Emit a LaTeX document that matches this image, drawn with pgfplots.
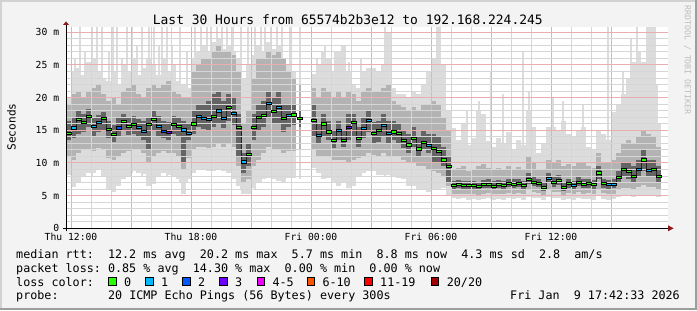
\documentclass[border=0pt]{standalone}
\usepackage{pgfplots}
\pgfplotsset{compat=1.18}
\usepackage{pgfplotstable}
\usepackage{fontspec}
\setmainfont{DejaVu Sans Mono}
\frenchspacing
\definecolor{bgc}{HTML}{F3F3F3}
\definecolor{edgeL}{HTML}{D2D2D2}
\definecolor{edgeD}{HTML}{9E9E9E}
\definecolor{smokeA}{HTML}{DCDCDC}
\definecolor{smokeB}{HTML}{B3B3B3}
\definecolor{smokeC}{HTML}{646464}
\definecolor{majgrid}{HTML}{EBAEAE}
\definecolor{mingrid}{HTML}{D6D6D6}
\definecolor{lossg}{HTML}{26FF00}
\definecolor{lossb}{HTML}{00B8FF}
\definecolor{lossd}{HTML}{0059FF}
\definecolor{lossp}{HTML}{7000FF}
\definecolor{lossm}{HTML}{EE00FF}
\definecolor{losso}{HTML}{FF5500}
\definecolor{lossr}{HTML}{FF0000}
\definecolor{lossk}{HTML}{A10000}
\definecolor{arrowc}{HTML}{8B1A1A}
\definecolor{wmark}{HTML}{BDBDBD}

% hours since Thu 12:00 ; smoke bands lo..hi, l2..u2, l1..u1 ; median ; loss class
\pgfplotstableread{
t lo l2 l1 med u1 u2 hi c
-0.125 8.2 11.0 13.5 14.6 16.5 19.0 20.0 g
0.125 6.3 10.5 13.8 15.4 17.0 20.5 24.0 b
0.375 7.0 11.5 14.5 16.7 18.0 21.0 24.5 g
0.625 8.0 12.0 14.8 16.2 17.5 20.0 23.5 g
0.875 8.5 12.0 15.5 17.2 18.2 21.0 25.5 g
1.125 8.5 11.8 14.2 15.6 17.0 21.5 26.0 b
1.375 9.0 12.3 14.8 16.2 17.4 22.0 24.0 b
1.625 8.0 12.0 15.0 16.9 17.8 20.5 23.0 g
1.875 5.8 10.8 13.8 15.2 16.5 19.5 22.5 g
2.125 5.6 10.5 13.2 14.4 15.8 20.0 24.0 g
2.375 6.5 11.0 14.0 15.4 17.0 19.0 22.0 d
2.625 7.5 11.5 15.0 16.4 17.5 21.0 25.0 g
2.875 8.0 11.8 14.3 15.6 17.0 21.5 24.0 g
3.125 8.7 12.0 14.5 15.9 17.2 22.0 26.0 g
3.375 8.5 12.0 14.0 15.5 16.8 20.5 23.5 b
3.625 8.3 11.5 13.5 14.9 16.5 20.0 24.5 b
3.875 6.5 10.0 12.0 15.9 17.0 21.5 26.0 g
4.125 6.8 11.0 15.0 16.7 18.0 22.0 25.0 g
4.375 8.0 11.5 14.2 15.6 17.2 21.5 23.5 b
4.625 8.5 11.8 13.8 14.9 16.5 22.0 26.0 d
4.875 8.2 11.5 13.5 14.7 16.2 22.5 24.0 p
5.125 8.0 11.5 14.5 15.9 17.2 21.0 25.0 g
5.375 7.5 11.0 14.0 15.6 17.0 20.5 22.5 g
5.625 5.3 9.0 10.0 15.1 16.5 20.0 22.0 b
5.875 7.5 10.8 13.5 14.6 16.0 20.0 21.5 b
6.125 8.5 12.0 14.5 16.0 18.0 24.0 26.0 g
6.375 9.0 12.5 15.5 17.2 19.0 25.0 27.0 b
6.625 9.0 12.5 15.2 16.9 19.0 26.0 28.0 b
6.875 8.8 12.3 15.0 16.7 19.5 26.0 27.0 b
7.125 8.7 12.5 15.5 17.2 20.5 27.0 28.5 g
7.375 9.0 13.0 16.0 18.0 21.0 28.0 29.0 b
7.625 8.7 12.5 15.3 16.9 19.5 27.0 27.5 b
7.875 8.5 13.0 16.5 18.5 20.5 27.0 28.0 g
8.125 7.5 12.5 15.8 17.6 20.0 26.5 27.0 b
8.375 6.5 9.5 11.0 15.5 17.5 24.0 26.0 g
8.625 5.2 7.0 8.5 10.2 11.5 16.0 23.0 b
8.875 5.3 7.5 9.5 11.3 13.0 18.0 25.0 g
9.125 6.2 9.5 13.5 15.5 17.5 23.0 26.5 g
9.375 7.0 10.5 15.0 17.0 19.0 26.0 28.0 g
9.625 7.5 11.5 15.5 17.3 19.5 26.0 27.0 g
9.875 7.7 12.5 17.0 19.2 21.0 27.0 28.5 b
10.125 7.5 12.0 16.0 17.9 20.0 26.5 27.5 g
10.375 7.2 12.0 16.0 18.5 21.0 27.0 28.0 b
10.625 7.0 11.5 14.8 16.8 19.0 26.0 26.0 g
10.875 7.7 11.8 15.5 17.3 19.0 24.0 25.0 b
11.125 7.7 11.8 15.8 17.4 18.8 23.0 24.0 g
}\segA

\pgfplotstableread{
t lo l2 l1 med u1 u2 hi c
11.45 7.5 12.0 15.5 16.9 18.0 22.0 30.8 g
}\segL

\pgfplotstableread{
t lo l2 l1 med u1 u2 hi c
12.125 9.2 12.0 14.0 16.5 19.0 21.5 23.6 g
12.375 8.5 11.0 13.0 14.3 16.0 20.0 25.0 b
12.625 7.5 11.0 14.0 16.0 17.5 21.5 27.0 g
12.875 7.7 11.0 13.5 14.8 16.5 21.0 26.0 g
13.125 7.0 10.5 12.3 13.5 15.0 20.0 24.0 g
13.375 6.5 10.5 13.5 15.0 16.5 21.0 27.0 b
13.625 7.0 10.5 12.5 13.5 15.0 20.0 28.0 g
13.875 6.2 10.0 13.5 15.5 17.5 21.0 24.0 p
14.125 6.5 10.5 14.0 16.3 17.5 20.5 22.0 g
14.375 8.0 10.8 12.5 13.8 15.5 19.5 21.5 g
14.625 8.5 11.0 13.8 15.3 17.0 21.0 24.0 b
14.875 8.7 11.5 14.8 16.5 18.0 21.5 24.6 b
15.125 8.7 11.2 13.0 14.5 16.2 21.0 24.6 g
15.375 8.2 11.0 13.2 15.0 16.5 21.0 24.0 g
15.625 8.2 11.5 14.0 15.8 17.5 21.5 25.0 b
15.875 8.2 11.0 13.0 14.5 16.5 22.0 30.0 b
16.125 8.0 11.0 13.5 14.8 16.5 19.5 21.5 g
16.375 7.7 11.0 13.0 14.5 16.0 19.0 20.5 g
16.625 7.5 10.5 12.3 13.5 15.0 18.5 20.5 g
16.875 6.5 10.0 11.5 12.8 14.5 18.0 20.0 g
17.125 6.5 10.0 12.5 13.8 15.5 18.5 21.0 g
17.375 6.0 9.5 11.0 12.2 14.0 18.0 20.5 g
17.625 5.8 9.5 12.0 13.2 15.0 19.0 22.0 g
17.875 5.5 9.0 11.5 12.7 14.5 19.0 24.0 b
18.125 6.0 8.8 10.0 12.3 14.5 19.5 26.0 g
18.375 6.0 8.5 10.0 11.8 14.0 19.0 30.8 g
18.625 6.2 8.0 9.5 10.5 12.5 17.0 25.0 g
18.875 5.0 6.5 7.0 9.5 11.0 15.0 18.0 g
19.125 4.6 5.3 6.0 6.6 7.3 9.0 15.3 g
19.375 4.5 5.2 6.1 6.7 7.4 9.2 13.5 g
19.625 4.6 5.3 6.0 6.6 7.3 9.5 15.9 g
19.875 4.4 5.2 6.0 6.6 7.2 8.8 12.8 g
20.125 4.5 5.2 6.0 6.6 7.3 9.0 13.8 g
20.375 4.3 5.1 5.8 6.4 7.1 9.5 17.9 g
20.625 4.5 5.3 6.1 6.7 7.4 9.8 17.5 g
20.875 4.6 5.4 6.2 6.8 7.5 9.2 13.3 g
21.125 4.4 5.2 5.9 6.5 7.2 8.9 12.5 g
21.375 4.5 5.3 6.1 6.7 7.4 9.3 13.8 g
21.625 4.4 5.2 6.0 6.6 7.3 9.0 13.0 g
21.875 4.6 5.4 6.3 6.9 7.6 9.6 14.8 g
22.125 4.5 5.3 6.2 6.8 7.5 9.0 12.0 g
22.375 4.6 5.4 6.3 6.9 7.6 9.4 13.5 g
22.625 4.4 5.2 6.0 6.6 7.3 9.0 12.8 g
22.875 4.8 5.8 6.8 7.5 8.5 11.0 17.9 g
23.125 4.6 5.5 6.4 7.0 7.8 10.0 15.5 g
23.375 4.6 5.4 6.3 6.9 7.6 9.0 11.5 g
23.625 4.3 5.0 5.7 6.3 7.0 9.0 13.0 g
23.875 4.8 5.8 6.9 7.7 8.5 10.5 15.5 b
24.125 4.6 5.5 6.3 7.0 7.8 10.0 15.5 g
24.375 4.7 5.6 6.6 7.4 8.2 10.5 15.0 g
24.625 4.3 5.1 5.7 6.3 7.0 9.5 16.5 g
24.875 4.5 5.4 6.2 6.9 7.6 9.8 14.5 g
25.125 4.4 5.2 6.0 6.6 7.3 9.5 14.0 b
25.375 4.6 5.5 6.4 7.1 7.9 10.0 15.0 g
25.625 4.5 5.3 6.1 6.8 7.5 10.0 15.5 g
25.875 4.5 5.4 6.2 6.9 7.6 9.5 12.5 g
26.125 4.4 5.3 6.0 6.7 7.4 9.2 12.0 g
26.375 4.9 6.0 7.5 8.5 9.5 11.5 15.0 g
26.625 4.5 5.4 6.2 6.9 7.6 10.0 14.5 g
26.875 4.4 5.3 6.0 6.7 7.4 10.0 13.5 b
27.125 4.5 5.3 6.1 6.8 7.6 10.5 17.8 b
27.375 4.8 5.8 6.9 7.8 8.8 11.5 19.0 g
27.625 5.0 6.2 7.9 9.0 10.2 13.0 20.5 g
27.875 5.0 6.2 7.6 8.7 10.0 13.5 23.0 g
28.125 4.8 5.9 7.0 8.0 9.5 13.0 25.5 g
28.375 5.0 6.3 7.9 9.0 10.5 14.0 27.0 b
28.625 5.1 6.6 8.8 10.5 12.0 15.0 25.5 g
28.875 5.0 6.3 7.8 8.9 10.5 14.5 30.8 b
29.125 5.0 6.3 7.9 9.0 10.5 14.0 30.8 g
29.375 4.8 6.0 7.0 8.0 9.5 12.5 16.0 g
}\segB

% thin single-sample streaks of the smoke
\pgfplotstableread{
t lo hi
0.2 8 26
0.45 7 30.8
0.7 8 27
1.05 8 30.8
1.3 9 30.8
1.55 8 30.8
1.9 6 27
2.1 6 30.8
2.3 7 30.8
2.55 7.5 26
2.8 8 30.8
3.05 8.5 30.8
3.3 8.5 28
3.55 8 30.8
3.9 6.5 30.8
4.15 7 30.8
4.4 8 28
4.55 8.5 30.8
4.8 8 30.8
5.05 8 28
5.45 7 30.8
5.8 7 27
6.2 8.5 30.8
6.5 9 30.8
6.8 9 30.8
7.0 9 30.8
7.3 9 30.8
7.55 8.7 30.8
7.8 8.5 30.8
8.1 7.5 30.8
8.5 6 30.8
8.85 5.3 30.8
9.2 6 30.8
9.5 7 30.8
9.7 7.5 30.8
10.0 7.7 30.8
10.3 7.2 30.8
10.55 7 30.8
10.95 7.7 30.8
12.3 9 26
12.7 8 28
13.2 7 27
13.9 7 25.5
14.5 8 26
15.7 8 30.8
16.0 8 29
18.35 6 30.8
19.8 4.5 18
20.4 4.4 19.5
21.0 4.5 24
21.6 4.5 20.5
22.6 4.5 27
22.9 4.8 21
24.1 4.6 20
24.6 4.4 19.5
25.6 4.5 19
26.85 4.4 30.8
27.6 5 24
28.0 5 29
28.3 5 30.8
28.8 5 30.8
29.1 5 30.8
29.3 5 22
}\spikes

\newcommand{\band}[5]{% table, lower col, upper col, color, width
\addplot[only marks, mark size=0pt, mark options={draw=none, fill=none},
  error bars/.cd, y dir=both, y explicit, error mark=none,
  error bar style={line width=#5, draw=#4}]
  table[x=t, y=med, y error plus expr=\thisrow{#3}-\thisrow{med}, y error minus expr=\thisrow{med}-\thisrow{#2}] {#1};
}
\newcommand{\medians}[1]{%
\addplot[scatter, only marks, scatter src=explicit symbolic,
  scatter/classes={g={mark=square*, draw=none, fill=lossg},
                   b={mark=square*, draw=none, fill=lossb},
                   d={mark=square*, draw=none, fill=lossd},
                   p={mark=square*, draw=none, fill=lossp}},
  mark size=1.1bp, mark options={xscale=2.1, draw=none}]
  table[x=t, y=med, meta=c] {#1};
}

\newcommand{\legfont}{\fontsize{11.78}{13}\selectfont}

\begin{document}
\begin{tikzpicture}[x=1bp,y=1bp]
\useasboundingbox (0,0) rectangle (697,310);
\fill[bgc] (0,0) rectangle (697,310);
\fill[edgeL] (0,308) rectangle (697,310);
\fill[edgeL] (0,0) rectangle (2,310);
\fill[edgeD] (0,0) rectangle (697,2);
\fill[edgeD] (695,0) rectangle (697,310);

\begin{axis}[
  at={(66bp,81.7bp)}, anchor=south west,
  scale only axis, width=602bp, height=201.6bp,
  xmin=-0.25, xmax=29.85, ymin=0, ymax=30.86,
  axis line style={draw=none},
  major tick length=0pt, minor tick length=0pt,
  xtick={0,3,...,27},
  xticklabels={Thu 12:00,,Thu 18:00,,Fri 00:00,,Fri 06:00,,Fri 12:00,},
  minor x tick num=2,
  ytick={0,5,...,30},
  yticklabels={0,5 m,10 m,15 m,20 m,25 m,30 m},
  minor y tick num=4,
  grid=both,
  major grid style={draw=majgrid, line width=1bp, solid},
  minor grid style={draw=mingrid, line width=1bp, solid},
  axis on top,
  axis background/.style={fill=white},
  tick label style={font=\fontsize{9.75}{11}\selectfont, inner sep=0pt},
  xticklabel style={anchor=base, yshift=-12.4bp},
  yticklabel style={anchor=east, xshift=-6.7bp},
]
% streaks
\addplot[only marks, mark size=0pt, mark options={draw=none, fill=none},
  error bars/.cd, y dir=plus, y explicit, error mark=none,
  error bar style={line width=1.7bp, draw=smokeA}]
  table[x=t, y=lo, y error plus expr=\thisrow{hi}-\thisrow{lo}] {\spikes};
% smoke
\band{\segA}{lo}{hi}{smokeA}{5.05bp}
\band{\segB}{lo}{hi}{smokeA}{5.05bp}
\band{\segL}{lo}{hi}{smokeA}{2bp}
\band{\segA}{l2}{u2}{smokeB}{5.05bp}
\band{\segB}{l2}{u2}{smokeB}{5.05bp}
\band{\segL}{l2}{u2}{smokeB}{2bp}
\band{\segA}{l1}{u1}{smokeC}{5.05bp}
\band{\segB}{l1}{u1}{smokeC}{5.05bp}
\band{\segL}{l1}{u1}{smokeC}{2bp}
% median trace
\addplot[black!85, line width=0.6bp, const plot mark mid, mark=none] table[x=t, y=med] {\segA};
\addplot[black!85, line width=0.6bp, const plot mark mid, mark=none] table[x=t, y=med] {\segB};
\medians{\segA}
\medians{\segL}
\medians{\segB}
\end{axis}

% axes with arrows
\draw[black, line width=1bp] (66,79) -- (66,286);
\fill[arrowc] (63,285) -- (69,285) -- (66,288.6) -- cycle;
\draw[black, line width=1bp] (63,81.7) -- (668,81.7);
\fill[arrowc] (668,78.7) -- (668,84.7) -- (673.6,81.7) -- cycle;

% title and labels
\node[anchor=base, inner sep=0pt, font=\fontsize{13}{15}\selectfont] at (347.8,286)
  {Last 30 Hours from 65574b2b3e12 to 192.168.224.245};
\node[rotate=90, inner sep=0pt, font=\fontsize{11.2}{13}\selectfont] at (11.5,183) {Seconds};
\node[rotate=-90, inner sep=0pt, font=\fontsize{8.3}{10}\selectfont, text=wmark] at (687.5,250)
  {RRDTOOL / TOBI OETIKER};

% legend
\node[anchor=base west, inner sep=0pt, font=\legfont] at (16,51.5)
  {median~rtt:~~12.2~ms~avg~~20.2~ms~max~~5.7~ms~min~~8.8~ms~now~~4.3~ms~sd~~2.8~~am/s};
\node[anchor=base west, inner sep=0pt, font=\legfont] at (16,37.7)
  {packet~loss:~0.85~\%~avg~~14.30~\%~max~~0.00~\%~min~~0.00~\%~now};
\node[anchor=base west, inner sep=0pt, font=\legfont] at (16,24) {loss~color:};
\foreach \bx/\col/\lab in {108.7/lossg/0, 145.7/lossb/1, 182.7/lossd/2, 219.7/lossp/3,
   257/lossm/4-5, 307/losso/6-10, 364.7/lossr/11-19, 431.3/lossk/20\slash 20}{
  \filldraw[fill=\col, draw=black, line width=0.9bp] (\bx,24.8) rectangle ++(7.6,7.6);
  \node[anchor=base west, inner sep=0pt, font=\legfont] at (\bx+15.3,24) {\lab};
}
\node[anchor=base west, inner sep=0pt, font=\legfont] at (16,10.2)
  {probe:~~~~~~~20~ICMP~Echo~Pings~(56~Bytes)~every~300s};
\node[anchor=base east, inner sep=0pt, font=\legfont] at (680,10.2)
  {Fri~Jan~~9~17:42:33~2026};
\end{tikzpicture}
\end{document}
